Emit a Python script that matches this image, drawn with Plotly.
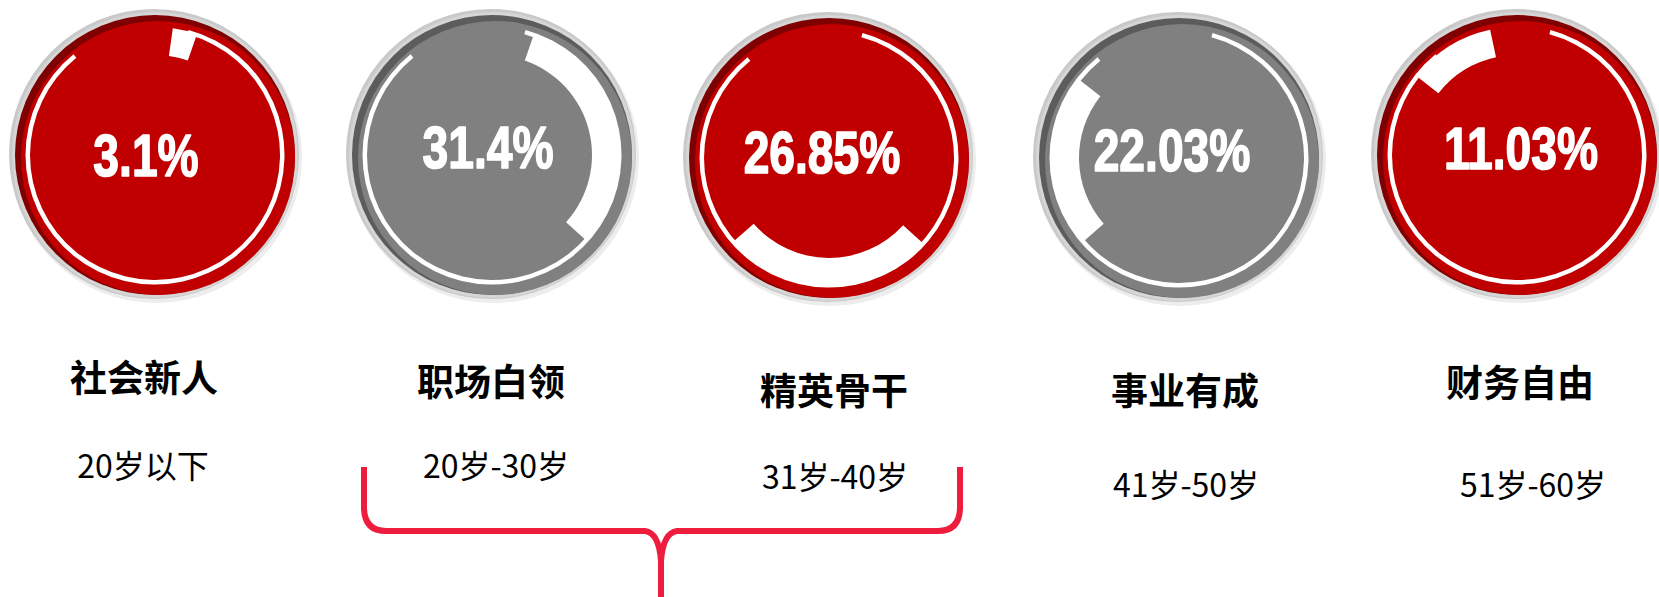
import plotly.graph_objects as go

# ---------------- data ----------------
categories = ["社会新人", "职场白领", "精英骨干", "事业有成", "财务自由"]
age_ranges = ["20岁以下", "20岁-30岁", "31岁-40岁", "41岁-50岁", "51岁-60岁"]
shares = [3.1, 31.4, 26.85, 22.03, 11.03]
share_labels = ["3.1%", "31.4%", "26.85%", "22.03%", "11.03%"]

# ---------------- layout / style ----------------
W, H = 1659, 597
disk_colors = ["#C00000", "#808080", "#C00000", "#808080", "#C00000"]
shadow_colors = ["#7E0000", "#5C5C5C", "#7E0000", "#5C5C5C", "#7E0000"]
cx = [155, 492, 829, 1179, 1517]
cy = [155, 155, 158, 158, 155]
pct_dx = [-9, -4, -7, -7, 4]
pct_dy = [6, -2, 0, -2, -1]
cat_pos = [(144, 383), (491, 387), (834, 396), (1185, 396), (1520, 388)]
age_pos = [(143, 470), (496, 470), (835, 481), (1186, 489), (1533, 489)]
ring_outer, ring_inner = 129.5, 125.0
arc_outer, arc_inner = 128.0, 100.0
pie_start = 8
ring_span = [306, 54]  # thin ring drawn arc / gap (degrees)
ring_start = 15
brace_color = "#EE1D3D"
pct_font_size = 60
pct_squeeze = 0.77

fig = go.Figure()

shapes = []
for i in range(5):
    x0, y0 = cx[i], cy[i]
    shapes.append(dict(type="circle", xref="x", yref="y", layer="below",
                       x0=x0 - 146 + 1, x1=x0 + 146 + 1, y0=y0 - 146 + 2, y1=y0 + 146 + 2,
                       fillcolor="#EDEDED", line=dict(width=0)))
    shapes.append(dict(type="circle", xref="x", yref="y", layer="below",
                       x0=x0 - 145 - 1, x1=x0 + 145 - 1, y0=y0 - 145 - 1, y1=y0 + 145 - 1,
                       fillcolor="#C9C9C9", line=dict(width=0)))
    shapes.append(dict(type="circle", xref="x", yref="y", layer="below",
                       x0=x0 - 143, x1=x0 + 143, y0=y0 - 143, y1=y0 + 143,
                       fillcolor="#D6D6D6", line=dict(width=0)))
    shapes.append(dict(type="circle", xref="x", yref="y", layer="below",
                       x0=x0 - 140, x1=x0 + 140, y0=y0 - 140, y1=y0 + 140,
                       fillcolor=shadow_colors[i], line=dict(width=0)))
    shapes.append(dict(type="circle", xref="x", yref="y", layer="below",
                       x0=x0 - 137 + 3, x1=x0 + 137 + 3, y0=y0 - 137 + 3, y1=y0 + 137 + 3,
                       fillcolor=disk_colors[i], line=dict(width=0)))

# brace under 职场白领 / 精英骨干
bl, br, bm = 364, 960, 661
btop, bmid, bbot = 467, 531, 600
brace_path = (
    f"M {bl},{btop} L {bl},{bmid-22} Q {bl+1},{bmid} {bl+22},{bmid} "
    f"L {bm-16},{bmid} Q {bm-2},{bmid+2} {bm},{bmid+30} L {bm},{bbot} "
    f"M {br},{btop} L {br},{bmid-22} Q {br-1},{bmid} {br-22},{bmid} "
    f"L {bm+16},{bmid} Q {bm+2},{bmid+2} {bm},{bmid+30}"
)
shapes.append(dict(type="path", xref="x", yref="y", path=brace_path, layer="above",
                   line=dict(color=brace_color, width=6)))

n = len(shares)
rest = max(0.0, 100 - sum(shares))
for i in range(n):
    d = ring_outer
    fig.add_trace(go.Pie(
        values=ring_span, sort=False, direction="clockwise", rotation=ring_start,
        hole=ring_inner / ring_outer,
        marker=dict(colors=["#FFFFFF", "rgba(0,0,0,0)"], line=dict(width=0)),
        textinfo="none", hoverinfo="skip", showlegend=False,
        domain=dict(x=[(cx[i] - d) / W, (cx[i] + d) / W],
                    y=[1 - (cy[i] + d) / H, 1 - (cy[i] - d) / H]),
    ))
    d = arc_outer
    cols = ["#FFFFFF" if j == i else "rgba(0,0,0,0)" for j in range(n)] + ["rgba(0,0,0,0)"]
    fig.add_trace(go.Pie(
        values=shares + [rest], labels=categories + ["其他"], sort=False,
        direction="clockwise", rotation=pie_start,
        hole=arc_inner / arc_outer,
        marker=dict(colors=cols, line=dict(width=0)),
        textinfo="none", hoverinfo="skip", showlegend=False,
        domain=dict(x=[(cx[i] - d) / W, (cx[i] + d) / W],
                    y=[1 - (cy[i] + d) / H, 1 - (cy[i] - d) / H]),
    ))

fig.add_trace(go.Scatter(
    x=[cx[i] + pct_dx[i] for i in range(n)], y=[cy[i] + pct_dy[i] for i in range(n)],
    mode="text", text=share_labels, textposition="middle center",
    textfont=dict(family="Liberation Sans, Arial, sans-serif",
                  size=pct_font_size, color="#FFFFFF", weight="bold"),
    hoverinfo="skip", showlegend=False,
))
fig.add_trace(go.Scatter(
    x=[p[0] for p in cat_pos], y=[p[1] for p in cat_pos],
    mode="text", text=categories, textposition="middle center",
    textfont=dict(family="Noto Sans CJK SC", size=37, color="#000000", weight="bold"),
    hoverinfo="skip", showlegend=False,
))
fig.add_trace(go.Scatter(
    x=[p[0] for p in age_pos], y=[p[1] for p in age_pos],
    mode="text", text=age_ranges, textposition="middle center",
    textfont=dict(family="Noto Sans CJK SC", size=32, color="#000000"),
    hoverinfo="skip", showlegend=False,
))

fig.update_layout(
    width=W, height=H, margin=dict(l=0, r=0, t=0, b=0),
    paper_bgcolor="#FFFFFF", plot_bgcolor="#FFFFFF",
    xaxis=dict(range=[0, W], visible=False, fixedrange=True),
    yaxis=dict(range=[H, 0], visible=False, fixedrange=True),
    shapes=shapes, showlegend=False,
)

post = (
    "document.body.style.margin='0';document.body.style.overflow='hidden';"
    "var gd=document.getElementById('{plot_id}');"
    "var tr=gd.querySelectorAll('.scatterlayer .trace')[0];"
    "tr.querySelectorAll('.textpoint text').forEach(function(t){"
    "var x=parseFloat(t.getAttribute('x'));"
    "t.setAttribute('transform','translate('+x+',0) scale(" + str(pct_squeeze) + ",1) translate('+(-x)+',0)');"
    "t.style.stroke='#FFFFFF';t.style.strokeWidth='1.6px';t.style.strokeLinejoin='round';"
    "});"
)
fig.write_html("out.html", config=dict(displayModeBar=False, staticPlot=True), post_script=post)
